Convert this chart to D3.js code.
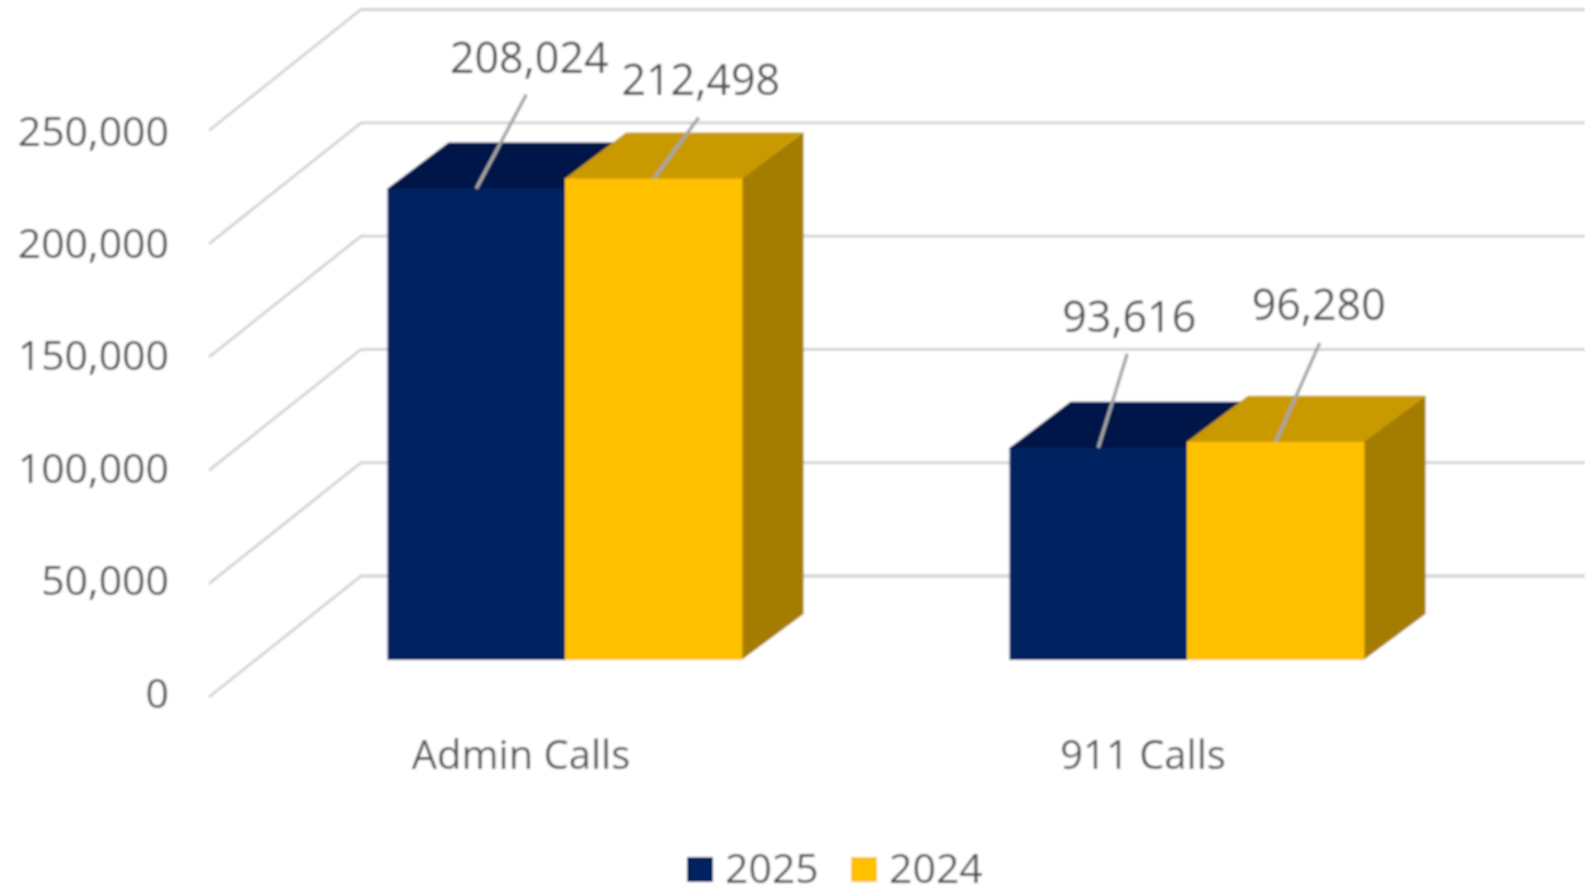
<!DOCTYPE html>
<html>
<head>
<meta charset="utf-8">
<script src="https://cdn.jsdelivr.net/npm/d3@7"></script>
<style>
  html, body { margin: 0; padding: 0; background: #fff; overflow: hidden; }
  text { font-family: "Open Sans", sans-serif; fill: #505050; }
  .axis path, .axis line { display: none; }
</style>
</head>
<body>
<svg id="chart" width="1585" height="888"></svg>
<script>
// Data
var categories = ["Admin Calls", "911 Calls"];
var seriesNames = ["2025", "2024"];
var values2025 = [208024, 93616];
var values2024 = [212498, 96280];
var yTicks = [0, 50000, 100000, 150000, 200000, 250000];

// Layout of the fake 3D box
var w = 1585, h = 888;
var frontX = 209, frontBase = 697;
var wallDx = 152, wallDy = -121;      // floor front edge -> back wall
var barDx = 45, barDy = -37;          // floor front edge -> front of the bars
var depthDx = 61, depthDy = -46;      // depth of a bar
var barW = 177.5;

var colors = {
    "2025": { front: "#002060", top: "#001848", side: "#001848" },
    "2024": { front: "#FFC000", top: "#C99900", side: "#A47D00" }
};

// leader ends, relative to the middle of each bar's top front edge
var leaderEnds = {
    "2025": [[50, -94], [29, -94]],
    "2024": [[45, -61], [44, -99]]
};
var labelGaps = {
    "2025": [[53, -116], [31, -116]],
    "2024": [[47, -83], [43, -122]]
};

var svg = d3.select("#chart");
var root = svg.append("g");

var defs = svg.append("defs");
defs.append("filter").attr("id", "soft")
    .attr("x", 0).attr("y", 0)
    .attr("filterUnits", "userSpaceOnUse")
    .attr("width", w).attr("height", h)
    .append("feGaussianBlur").attr("stdDeviation", 0.9);
root.attr("filter", "url(#soft)");

root.append("rect").attr("width", w).attr("height", h).attr("fill", "#fff");

// Scales
var y = d3.scaleLinear().domain([0, 250000]).range([0, 566.5]);
var yLabel = d3.scaleLinear().domain([0, 250000]).range([694, 132]);
var x = d3.scaleBand().domain(categories).range([frontX, frontX + 2 * 622]);
var xInner = d3.scaleBand().domain(seriesNames).range([0, 2 * barW]);

// Gridlines: side wall diagonal + back wall line
var backX = frontX + wallDx;
var grid = root.append("g");
grid.selectAll("path")
    .data(yTicks)
    .enter()
    .append("path")
    .attr("fill", "none")
    .attr("stroke", "#D2D2D2")
    .attr("stroke-width", 2.8)
    .attr("d", function(d) {
        var fy = frontBase - y(d);
        return "M" + frontX + "," + fy + "L" + backX + "," + (fy + wallDy) + "L" + w + "," + (fy + wallDy);
    });

// Bars
var barBase = frontBase + barDy;
var series = [
    { name: "2025", values: values2025 },
    { name: "2024", values: values2024 }
];

function barLeft(name, i) {
    var groupMid = x(categories[i]) + x.bandwidth() / 2 + barDx;
    return groupMid - barW + xInner(name);
}

function poly(points) {
    return points.map(function(p) { return p.join(","); }).join(" ");
}

series.forEach(function(s) {
    var c = colors[s.name];
    var g = root.append("g").attr("class", "series-" + s.name);

    s.values.forEach(function(v, i) {
        var x0 = barLeft(s.name, i);
        var x1 = x0 + xInner.bandwidth();
        var top = barBase - y(v);

        // 1px overlap under the front face so no white seam shows
        g.append("polygon").attr("fill", c.side)
            .attr("points", poly([[x1 - 1, top], [x1 + depthDx, top + depthDy], [x1 + depthDx, barBase + depthDy], [x1 - 1, barBase]]));
        g.append("polygon").attr("fill", c.top)
            .attr("points", poly([[x0, top + 1], [x0, top], [x0 + depthDx, top + depthDy], [x1 + depthDx, top + depthDy], [x1, top], [x1, top + 1]]));
        g.append("rect").attr("fill", c.front)
            .attr("x", x0).attr("y", top)
            .attr("width", xInner.bandwidth()).attr("height", y(v));
    });
});

// Leader lines and data labels
series.forEach(function(s) {
    s.values.forEach(function(v, i) {
        var mid = barLeft(s.name, i) + xInner.bandwidth() / 2;
        var top = barBase - y(v);
        var end = leaderEnds[s.name][i];
        var gap = labelGaps[s.name][i];

        root.append("line")
            .attr("x1", mid).attr("y1", top)
            .attr("x2", mid + end[0]).attr("y2", top + end[1])
            .attr("stroke", "#A6A6A6")
            .attr("stroke-width", 3.4);

        root.append("text")
            .attr("x", mid + gap[0])
            .attr("y", top + gap[1])
            .attr("text-anchor", "middle")
            .attr("font-size", "43px")
            .text(d3.format(",")(v));
    });
});

// Axes
var yAxis = d3.axisLeft(yLabel).tickValues(yTicks).tickFormat(d3.format(",")).tickSize(0).tickPadding(0);
root.append("g")
    .attr("class", "y axis")
    .attr("transform", "translate(169,0)")
    .call(yAxis)
    .selectAll("text")
    .attr("font-size", "41px");

var xAxis = d3.axisBottom(x).tickSize(0).tickPadding(0);
root.append("g")
    .attr("class", "x axis")
    .attr("transform", "translate(1,741)")
    .call(xAxis)
    .selectAll("text")
    .attr("font-size", "40px");

// Legend
var legendX = { "2025": 687, "2024": 851 };
var legend = root.append("g");
seriesNames.forEach(function(name) {
    legend.append("rect")
        .attr("x", legendX[name]).attr("y", 857)
        .attr("width", 26).attr("height", 25)
        .attr("fill", colors[name].front);
    legend.append("text")
        .attr("x", legendX[name] + 38).attr("y", 883)
        .attr("font-size", "41px")
        .text(name);
});
</script>
</body>
</html>
